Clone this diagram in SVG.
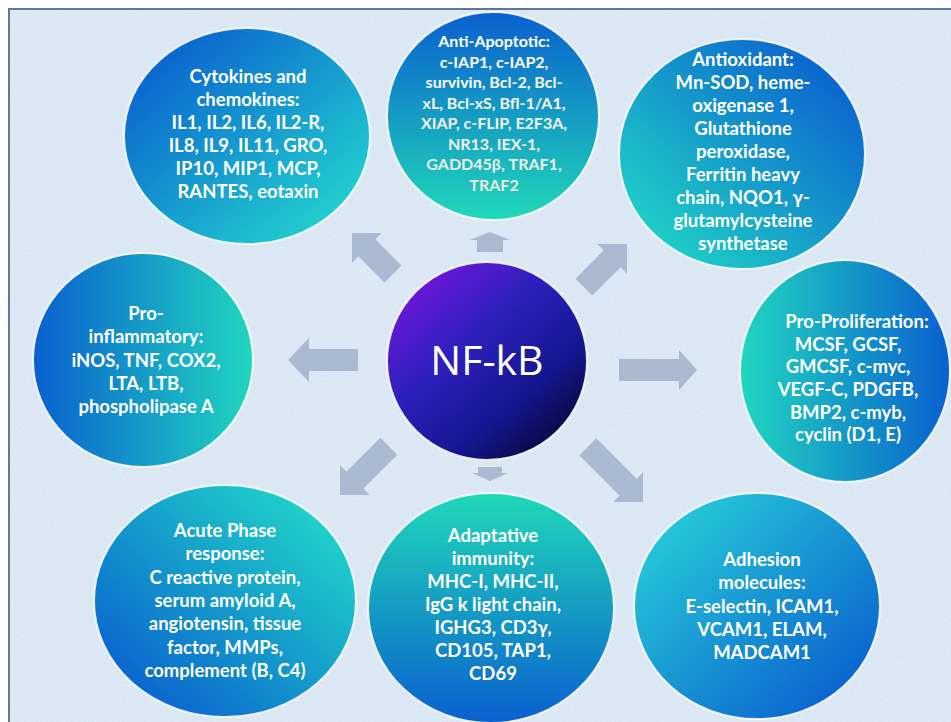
<svg xmlns="http://www.w3.org/2000/svg" width="951" height="722" viewBox="0 0 951 722">
<defs>
<style>
.lbl{font-family:Lato,"Open Sans","DejaVu Sans",sans-serif;font-weight:bold;font-size:18.5px;fill:#ffffff;text-anchor:middle}
.sm{font-size:16px}
.ring{stroke:#ffffff;stroke-opacity:0.85;stroke-width:2}
.arr{fill:#abb9d1}
.core{font-family:"Open Sans","Noto Sans",sans-serif;font-size:41px;fill:#ffffff;text-anchor:middle}
</style>
<linearGradient id="gTL" x1="0.1" y1="0.1" x2="0.9" y2="0.9"><stop offset="0" stop-color="#0a60cf"/><stop offset="1" stop-color="#22d3cf"/></linearGradient>
<linearGradient id="gT" x1="0" y1="0" x2="0" y2="1"><stop offset="0" stop-color="#0a60cf"/><stop offset="1" stop-color="#20d8b8"/></linearGradient>
<linearGradient id="gTR" x1="0.9" y1="0.1" x2="0.1" y2="0.9"><stop offset="0" stop-color="#0a60cf"/><stop offset="1" stop-color="#20d3c6"/></linearGradient>
<linearGradient id="gL" x1="0" y1="0" x2="1" y2="0"><stop offset="0" stop-color="#0a60cf"/><stop offset="1" stop-color="#20d6c0"/></linearGradient>
<linearGradient id="gR" x1="1" y1="0" x2="0" y2="0"><stop offset="0" stop-color="#0a60cf"/><stop offset="1" stop-color="#20d6c0"/></linearGradient>
<linearGradient id="gBL" x1="0.1" y1="0.9" x2="0.9" y2="0.1"><stop offset="0" stop-color="#0a60cf"/><stop offset="1" stop-color="#20d6c8"/></linearGradient>
<linearGradient id="gB" x1="0" y1="1" x2="0" y2="0"><stop offset="0" stop-color="#0a60cf"/><stop offset="1" stop-color="#20d8b8"/></linearGradient>
<linearGradient id="gBR" x1="0.9" y1="0.9" x2="0.1" y2="0.1"><stop offset="0" stop-color="#0a60cf"/><stop offset="1" stop-color="#26cbd8"/></linearGradient>
<linearGradient id="gCore" x1="0.15" y1="0.1" x2="0.9" y2="0.95"><stop offset="0" stop-color="#6d17d8"/><stop offset="0.35" stop-color="#2b20bc"/><stop offset="0.7" stop-color="#15158e"/><stop offset="1" stop-color="#05052c"/></linearGradient>
<linearGradient id="gAnti" gradientUnits="userSpaceOnUse" x1="0" y1="40" x2="0" y2="195"><stop offset="0" stop-color="#ffffff"/><stop offset="0.5" stop-color="#f5f3ee"/><stop offset="1" stop-color="#ebe7de"/></linearGradient>
<filter id="tex" x="0" y="0" width="1" height="1">
<feTurbulence type="fractalNoise" baseFrequency="0.6" numOctaves="2" seed="3"/>
<feColorMatrix type="matrix" values="0 0 0 0 1  0 0 0 0 1  0 0 0 0 1  0 0 0 0.9 -0.35"/>
</filter>
</defs>
<rect x="0" y="0" width="951" height="722" fill="#ffffff"/>
<rect x="9" y="9" width="960" height="730" fill="#d9e6f3" stroke="#5f7898" stroke-width="2"/>
<rect x="10" y="10" width="941" height="712" filter="url(#tex)" opacity="0.6"/>

<g id="connectors">
<polygon class="arr" transform="translate(490,232) rotate(-90)" points="0,0 -8,-20 -8,-13 -20,-13 -20,13 -8,13 -8,20"/>
<polygon class="arr" transform="translate(490,481) rotate(90)" points="0,0 -8,-18 -8,-12 -14,-12 -14,12 -8,12 -8,18"/>
<polygon class="arr" transform="translate(288,360) rotate(180)" points="0,0 -21,-22 -21,-11 -70,-11 -70,11 -21,11 -21,22"/>
<polygon class="arr" transform="translate(697,370)" points="0,0 -18,-20 -18,-11 -78,-11 -78,11 -18,11 -18,20"/>
<polygon class="arr" transform="translate(352,233) rotate(225)" points="0,0 -21,-21 -21,-12 -58,-12 -58,12 -21,12 -21,21"/>
<polygon class="arr" transform="translate(627,244) rotate(-45)" points="0,0 -21,-21 -21,-12 -61,-12 -61,12 -21,12 -21,21"/>
<polygon class="arr" transform="translate(340,495) rotate(135)" points="0,0 -21,-21 -21,-12 -69,-12 -69,12 -21,12 -21,21"/>
<polygon class="arr" transform="translate(643,502) rotate(45)" points="0,0 -21,-21 -21,-12 -78,-12 -78,12 -21,12 -21,21"/>
</g>

<g id="cytokines">
<ellipse class="ring" cx="247" cy="136" rx="123" ry="108" fill="url(#gTL)"/>
<text class="lbl"><tspan x="248" y="83">Cytokines and</tspan><tspan x="248" y="106">chemokines:</tspan><tspan x="248" y="129">IL1, IL2, IL6, IL2-R,</tspan><tspan x="248" y="152">IL8, IL9, IL11, GRO,</tspan><tspan x="248" y="175">IP10, MIP1, MCP,</tspan><tspan x="248" y="198">RANTES, eotaxin</tspan></text>
</g>

<g id="anti-apoptotic">
<ellipse class="ring" cx="493" cy="116" rx="106" ry="104" fill="url(#gT)"/>
<text class="lbl sm" style="fill:url(#gAnti)"><tspan x="494" y="47">Anti-Apoptotic:</tspan><tspan x="494" y="67.5">c-IAP1, c-IAP2,</tspan><tspan x="494" y="88">survivin, Bcl-2, Bcl-</tspan><tspan x="494" y="108.5">xL, Bcl-xS, Bfl-1/A1,</tspan><tspan x="494" y="129">XIAP, c-FLIP, E2F3A,</tspan><tspan x="494" y="149.5">NR13, IEX-1,</tspan><tspan x="494" y="170">GADD45β, TRAF1,</tspan><tspan x="494" y="190.5">TRAF2</tspan></text>
</g>

<g id="antioxidant">
<ellipse class="ring" cx="742" cy="154" rx="123" ry="115" fill="url(#gTR)"/>
<text class="lbl"><tspan x="743" y="66">Antioxidant:</tspan><tspan x="743" y="89">Mn-SOD, heme-</tspan><tspan x="743" y="112">oxigenase 1,</tspan><tspan x="743" y="135">Glutathione</tspan><tspan x="743" y="158">peroxidase,</tspan><tspan x="743" y="181">Ferritin heavy</tspan><tspan x="743" y="204">chain, NQO1, γ-</tspan><tspan x="743" y="227">glutamylcysteine</tspan><tspan x="743" y="250">synthetase</tspan></text>
</g>

<g id="pro-inflammatory">
<ellipse class="ring" cx="143" cy="360" rx="110" ry="107" fill="url(#gL)"/>
<text class="lbl"><tspan x="146" y="320">Pro-</tspan><tspan x="146" y="343">inflammatory:</tspan><tspan x="146" y="367">iNOS, TNF, COX2,</tspan><tspan x="146" y="390">LTA, LTB,</tspan><tspan x="146" y="413">phospholipase A</tspan></text>
</g>

<g id="pro-proliferation">
<ellipse class="ring" cx="845" cy="371" rx="105" ry="111" fill="url(#gR)"/>
<text class="lbl"><tspan x="857" y="328">Pro-Proliferation:</tspan><tspan x="848" y="351">MCSF, GCSF,</tspan><tspan x="848" y="373">GMCSF, c-myc,</tspan><tspan x="848" y="396">VEGF-C, PDGFB,</tspan><tspan x="848" y="419">BMP2, c-myb,</tspan><tspan x="848" y="441">cyclin (D1, E)</tspan></text>
</g>

<g id="acute-phase">
<ellipse class="ring" cx="225" cy="601" rx="131" ry="116" fill="url(#gBL)"/>
<text class="lbl"><tspan x="225" y="537">Acute Phase</tspan><tspan x="225" y="560">response:</tspan><tspan x="225" y="584">C reactive protein,</tspan><tspan x="225" y="607">serum amyloid A,</tspan><tspan x="225" y="630">angiotensin, tissue</tspan><tspan x="225" y="654">factor, MMPs,</tspan><tspan x="225" y="677">complement (B, C4)</tspan></text>
</g>

<g id="adaptative">
<ellipse class="ring" cx="491" cy="608" rx="123" ry="115" fill="url(#gB)"/>
<text class="lbl"><tspan x="493" y="542">Adaptative</tspan><tspan x="493" y="565">immunity:</tspan><tspan x="493" y="588">MHC-I, MHC-II,</tspan><tspan x="493" y="611">IgG k light chain,</tspan><tspan x="493" y="634">IGHG3, CD3γ,</tspan><tspan x="493" y="657">CD105, TAP1,</tspan><tspan x="493" y="680">CD69</tspan></text>
</g>

<g id="adhesion">
<ellipse class="ring" cx="757" cy="606" rx="123" ry="113" fill="url(#gBR)"/>
<text class="lbl"><tspan x="762" y="566">Adhesion</tspan><tspan x="762" y="589">molecules:</tspan><tspan x="762" y="613">E-selectin, ICAM1,</tspan><tspan x="762" y="636">VCAM1, ELAM,</tspan><tspan x="762" y="659">MADCAM1</tspan></text>
</g>

<g id="nfkb">
<ellipse class="ring" cx="487" cy="361" rx="100" ry="99" fill="url(#gCore)"/>
<text class="core" x="487" y="375">NF-kB</text>
</g>
</svg>
